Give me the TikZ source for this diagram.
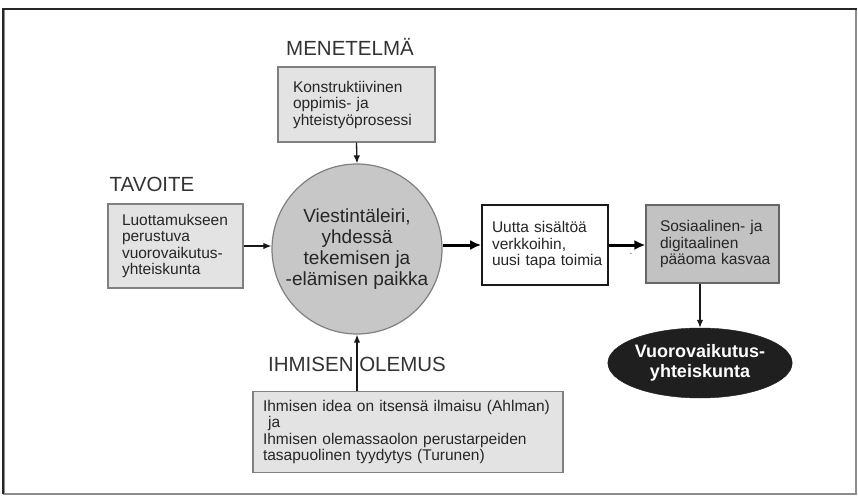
\documentclass[tikz,border=0pt]{standalone}
\usepackage{fontspec}
\setmainfont{Liberation Sans}
\usetikzlibrary{arrows.meta,shapes.geometric}
\hbadness=10000 \hfuzz=100pt
\begin{document}
\begin{tikzpicture}[x=1pt,y=-1pt,
  lightbox/.style={draw=black!50, fill=black!11, line width=1.2pt, inner ysep=0pt, text=black!85, align=left, font=\fontsize{15.5}{16.5}\selectfont},
  greybox/.style={lightbox, fill=black!24, draw=black!60},
  whitebox/.style={lightbox, fill=white, draw=black!90, line width=1.6pt},
  heading/.style={text=black!80, font=\fontsize{20.5}{22}\selectfont, inner sep=0pt},
  thinarrow/.style={draw=black!90, line width=1.3pt, -{Latex[length=8pt,width=6.5pt]}},
  thickarrow/.style={draw=black, line width=3pt, -{Latex[length=11pt,width=10pt]}}
]
\useasboundingbox (0,0) rectangle (858,497);
% frame
\draw[black!45, line width=1.2pt] (4,9) rectangle (856,494);
\draw[black!85, line width=2.6pt] (3,494) -- (3,9) -- (857,9);

% headings
\node[heading] (hmet) at (350,47) {MENETELMÄ};
\node[heading] (htav) at (152,184) {TAVOITE};
\node[heading] (hihm) at (357,364) {IHMISEN OLEMUS};

% boxes
\node[lightbox, minimum width=157, minimum height=75, text width=127, inner xsep=15] (met) at (356.5,104.5) {\mbox{Konstruktiivinen}\\oppimis- ja\\\mbox{yhteistyöprosessi}};
\node[lightbox, minimum width=135, minimum height=84, text width=107, inner xsep=14] (tav) at (175.5,246) {\mbox{Luottamukseen}\\perustuva\\\mbox{vuorovaikutus-}\\yhteiskunta};
\node[lightbox, minimum width=310, minimum height=81, text width=290, inner xsep=10] (ihm) at (408,432) {\mbox{Ihmisen idea on itsensä ilmaisu (Ahlman)}\\\ ja\\\mbox{Ihmisen olemassaolon perustarpeiden}\\\mbox{tasapuolinen tyydytys (Turunen)}};
\node[whitebox, minimum width=126, minimum height=80, text width=106, inner xsep=10] (uut) at (545,245) {\mbox{Uutta sisältöä}\\\mbox{verkkoihin,}\\\mbox{uusi tapa toimia}};
\node[greybox, minimum width=133, minimum height=78, text width=105, inner xsep=14] (sos) at (712.5,244) {\mbox{Sosiaalinen- ja}\\\mbox{digitaalinen}\\\mbox{pääoma kasvaa}};

% centre circle
\node[circle, draw=black!50, fill=black!22, line width=1.2pt, minimum size=170, inner sep=0pt, align=center, text=black!85, font=\fontsize{19}{21}\selectfont] (c) at (357,249) {Viestintäleiri,\\yhdessä\\tekemisen ja\\-elämisen paikka};

% result ellipse
\node[ellipse, fill=black!88, draw=black!88, minimum width=165, minimum height=70, inner sep=0pt, align=center, text=white, font=\bfseries\fontsize{18}{19.5}\selectfont] (ell) at (700,363) {Vuorovaikutus-\\yhteiskunta};

% stray dot
\node[inner sep=0pt, text=black!70, font=\fontsize{10}{10}\selectfont] (dot) at (631,254) {.};

% connectors
\draw[thinarrow] (met.south) -- (c.north);
\draw[thinarrow] (tav.east) -- (tav.east -| c.west);
\draw[thinarrow] (ihm.north -| c.south) -- (c.south);
\draw[thickarrow] (uut.west -| c.east) -- (uut.west);
\draw[thickarrow] (uut.east) -- (uut.east -| sos.west);
\draw[thinarrow] (ell.north |- sos.south) -- (ell.north);
\end{tikzpicture}
\end{document}
